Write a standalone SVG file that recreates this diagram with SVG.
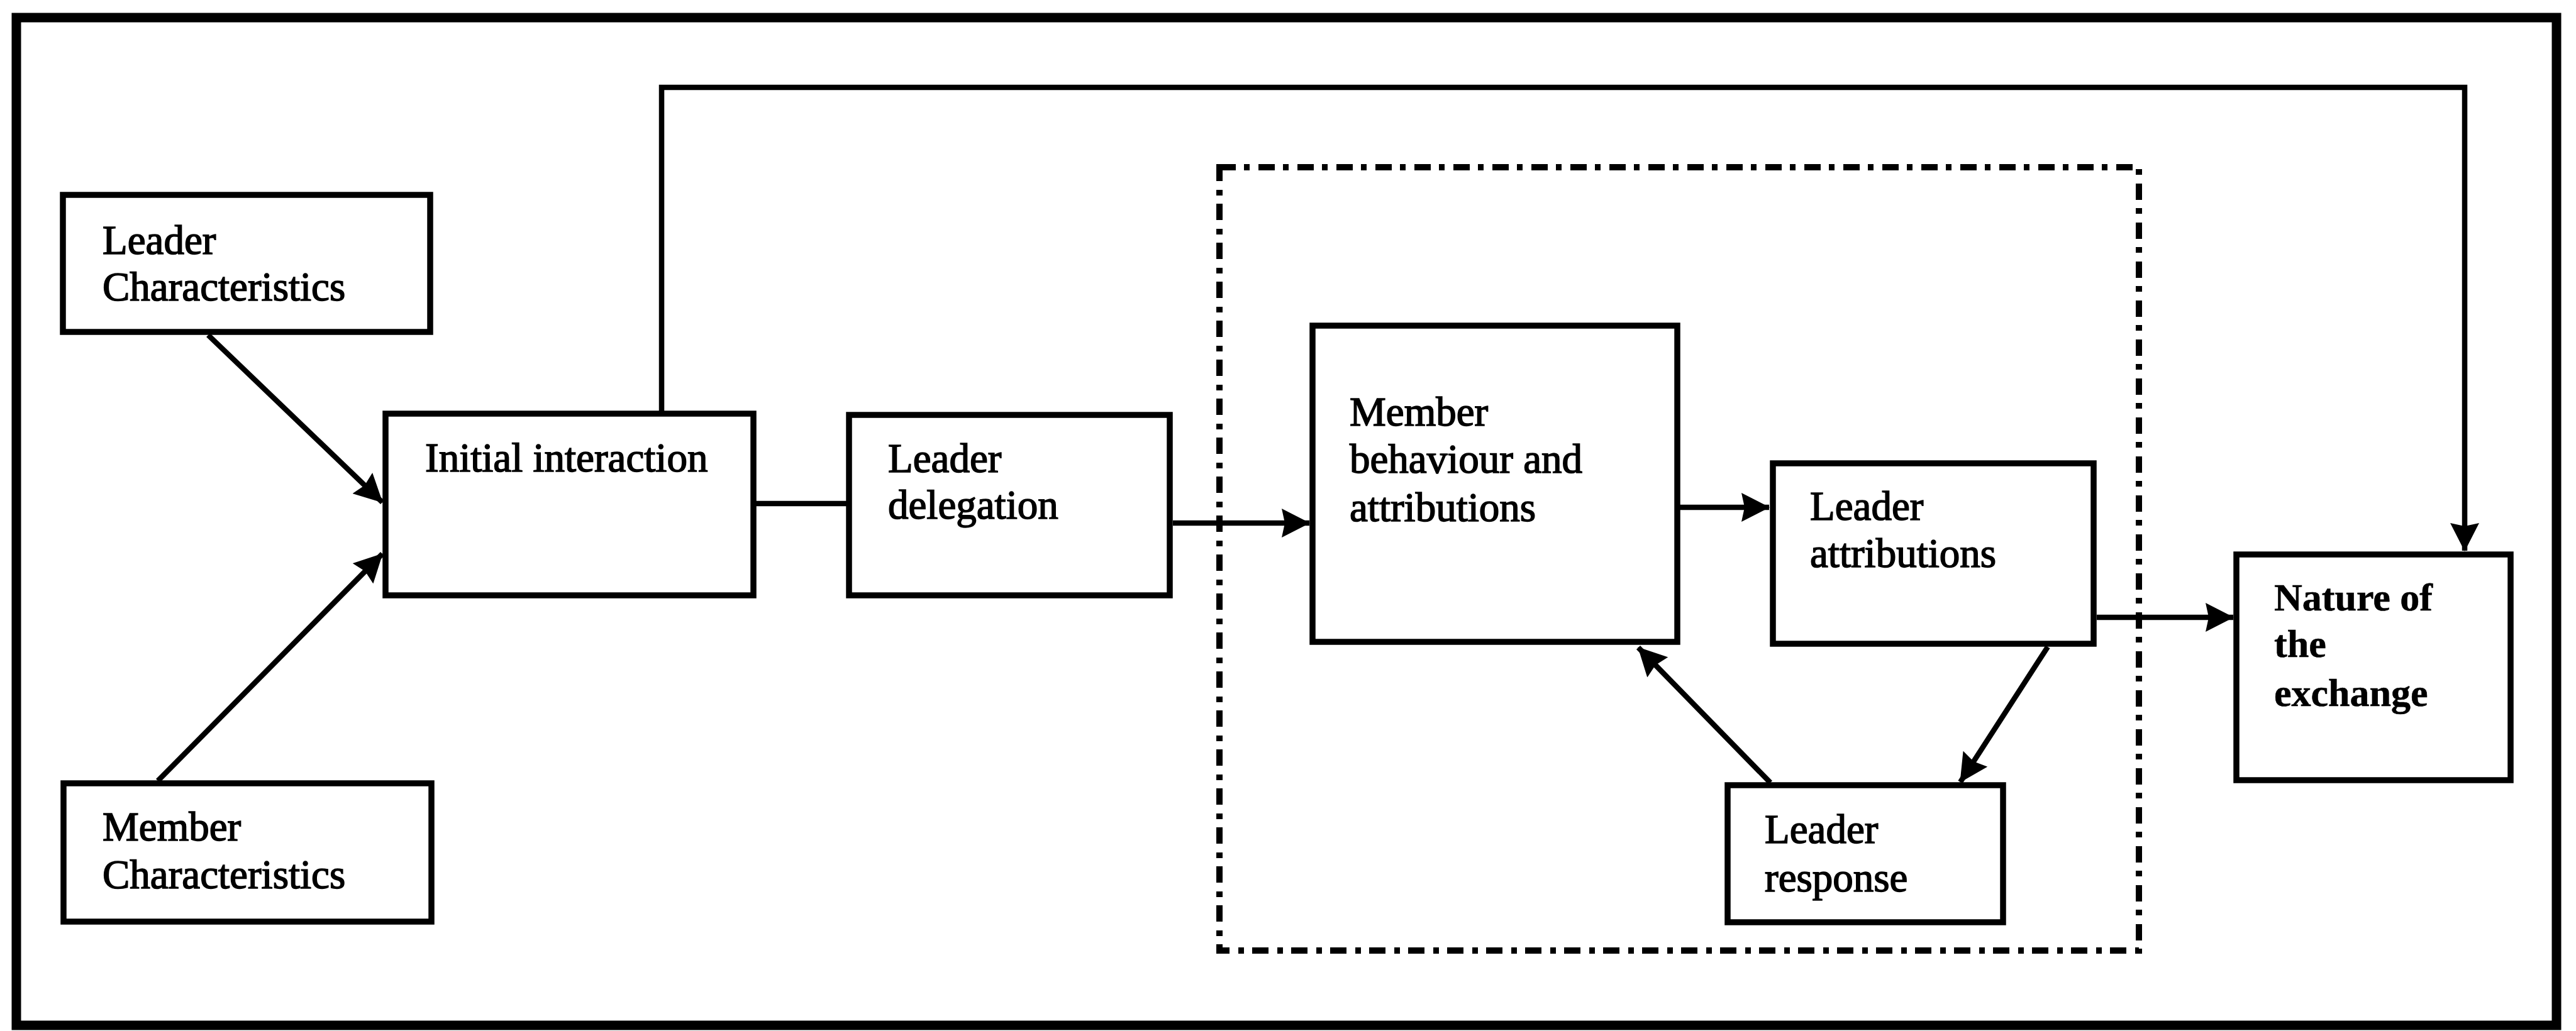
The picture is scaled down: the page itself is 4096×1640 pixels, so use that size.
<svg xmlns="http://www.w3.org/2000/svg" width="4096" height="1640" viewBox="0 0 4096 1640">
  <style>
    .box { fill: #fff; stroke: #000; stroke-width: 9.5; }
    .lbl { font-family: "Liberation Serif", "Times New Roman", serif; font-size: 65px; fill: #000; stroke: #000; stroke-width: 1.6; }
    .bold { font-weight: bold; font-size: 62px; stroke-width: 0.6; }
    .wire { fill: none; stroke: #000; stroke-width: 8.5; }
    .arrow { marker-end: url(#ah); }
  </style>
  <defs>
    <marker id="ah" markerUnits="userSpaceOnUse" markerWidth="46" markerHeight="46" viewBox="0 0 46 46" refX="44" refY="23" orient="auto">
      <path d="M0,0 L45,23 L0,46 L5,23 z" fill="#000"/>
    </marker>
  </defs>

  <rect width="4096" height="1640" fill="#fff"/>

  <!-- outer frame -->
  <rect id="frame" x="26" y="28" width="4039" height="1603" fill="none" stroke="#000" stroke-width="15"/>

  <!-- dash-dot boundary around the attribution loop -->
  <rect id="loop-boundary" x="1939" y="266" width="1462" height="1246" fill="none" stroke="#000" stroke-width="10" stroke-dasharray="26 13 9 14"/>

  <g id="connectors">
    <path class="wire arrow" d="M331,533 L608,799"/>
    <path class="wire arrow" d="M251,1242 L608,881"/>
    <path class="wire" d="M1202,801 L1346,801"/>
    <path class="wire arrow" d="M1865,832 L2082,832"/>
    <path class="wire arrow" d="M2671,807 L2813,807"/>
    <path class="wire arrow" d="M3256,1029 L3117,1244"/>
    <path class="wire arrow" d="M2815,1245 L2605,1030"/>
    <path class="wire arrow" d="M3334,982 L3551,982"/>
    <path class="wire arrow" d="M1052,654 L1052,139 L3919,139 L3919,876"/>
  </g>

  <g id="leader-characteristics">
    <rect class="box" x="100" y="310" width="584" height="218"/>
    <text class="lbl" x="163" y="404">Leader</text>
    <text class="lbl" x="163" y="478">Characteristics</text>
  </g>

  <g id="member-characteristics">
    <rect class="box" x="101" y="1246" width="585" height="220"/>
    <text class="lbl" x="163" y="1337">Member</text>
    <text class="lbl" x="163" y="1413">Characteristics</text>
  </g>

  <g id="initial-interaction">
    <rect class="box" x="613" y="658" width="585" height="289"/>
    <text class="lbl" x="676" y="750">Initial interaction</text>
  </g>

  <g id="leader-delegation">
    <rect class="box" x="1350" y="660" width="510" height="287"/>
    <text class="lbl" x="1412" y="751">Leader</text>
    <text class="lbl" x="1412" y="825">delegation</text>
  </g>

  <g id="member-behaviour">
    <rect class="box" x="2087" y="518" width="580" height="503"/>
    <text class="lbl" x="2146" y="677">Member</text>
    <text class="lbl" x="2146" y="752">behaviour and</text>
    <text class="lbl" x="2146" y="829">attributions</text>
  </g>

  <g id="leader-attributions">
    <rect class="box" x="2819" y="737" width="510" height="287"/>
    <text class="lbl" x="2878" y="827">Leader</text>
    <text class="lbl" x="2878" y="902">attributions</text>
  </g>

  <g id="leader-response">
    <rect class="box" x="2747" y="1249" width="438" height="218"/>
    <text class="lbl" x="2806" y="1341">Leader</text>
    <text class="lbl" x="2806" y="1418">response</text>
  </g>

  <g id="nature-of-exchange">
    <rect class="box" x="3556" y="882" width="436" height="359"/>
    <text class="lbl bold" x="3616" y="971">Nature of</text>
    <text class="lbl bold" x="3616" y="1045">the</text>
    <text class="lbl bold" x="3616" y="1123">exchange</text>
  </g>
</svg>
